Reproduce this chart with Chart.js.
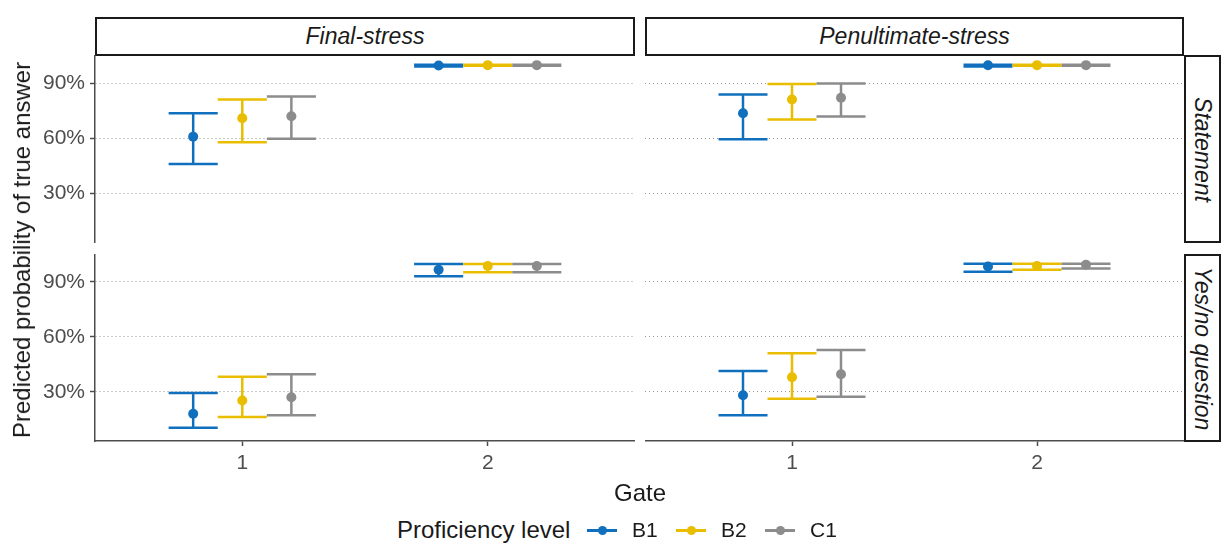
<!DOCTYPE html>
<html>
<head>
<meta charset="utf-8">
<script src="https://cdn.jsdelivr.net/npm/chart.js@4.4.1/dist/chart.umd.min.js"></script>
<style>
  body { margin: 0; background: #fff; width: 1223px; height: 547px; position: relative; overflow: hidden;
         font-family: "Liberation Sans", Arial, sans-serif; color: #1a1a1a; }
  canvas { position: absolute; }
  .strip { position: absolute; box-sizing: border-box; border: 2px solid #1a1a1a; background: #fff;
           font-style: italic; font-size: 23px; display: flex; align-items: center; justify-content: center; }
  .strip span { white-space: nowrap; }
  .vstrip span { transform: rotate(90deg); }
  .label { position: absolute; white-space: nowrap; }
  .key-line { position: absolute; height: 3px; }
  .key-dot { position: absolute; width: 9px; height: 9px; border-radius: 50%; }
</style>
</head>
<body>

<div class="strip" style="left:95px; top:17px; width:540px; height:39px;"><span>Final-stress</span></div>
<div class="strip" style="left:645px; top:17px; width:539px; height:39px;"><span>Penultimate-stress</span></div>
<div class="strip vstrip" style="left:1184px; top:55px; width:37px; height:188px;"><span>Statement</span></div>
<div class="strip vstrip" style="left:1184px; top:254px; width:37px; height:188px;"><span>Yes/no question</span></div>

<canvas id="fsStatement" width="635" height="188" style="left:0; top:55px;"></canvas>
<canvas id="psStatement" width="539" height="188" style="left:645px; top:55px;"></canvas>
<canvas id="fsQuestion" width="635" height="227" style="left:0; top:254px;"></canvas>
<canvas id="psQuestion" width="539" height="227" style="left:645px; top:254px;"></canvas>

<div class="label" style="left:22px; top:250px; font-size:24px; transform:translate(-50%,-50%) rotate(-90deg);">Predicted probability of true answer</div>
<div class="label" style="left:640px; top:493px; font-size:24px; transform:translate(-50%,-50%);">Gate</div>

<div id="legend"></div>

<script>
const gates = [1, 2];
const levels = ['B1', 'B2', 'C1'];
const levelColors = ['#1170bd', '#e9bd00', '#8c8c8c'];
const dodge = [-0.2, 0, 0.2];
const yTicks = [30, 60, 90];

// rows: B1, B2, C1; columns: gate 1, gate 2 (percent)
const fsStatementFit   = [[60.9, 99.5], [70.9, 99.7], [72.0, 99.7]];
const fsStatementLower = [[46.0, 98.9], [57.8, 99.3], [59.7, 99.4]];
const fsStatementUpper = [[73.6, 99.9], [81.1, 99.9], [82.7, 99.9]];

const psStatementFit   = [[73.6, 99.6], [81.1, 99.7], [82.0, 99.7]];
const psStatementLower = [[59.5, 99.0], [70.2, 99.3], [71.8, 99.4]];
const psStatementUpper = [[83.8, 99.9], [89.5, 99.9], [89.7, 99.9]];

const fsQuestionFit   = [[18.1, 96.6], [25.3, 98.7], [27.1, 98.7]];
const fsQuestionLower = [[10.4, 93.0], [16.3, 95.2], [17.2, 95.2]];
const fsQuestionUpper = [[29.4, 99.8], [38.2, 99.8], [39.6, 99.8]];

const psQuestionFit   = [[28.2, 98.4], [38.0, 98.6], [39.6, 99.3]];
const psQuestionLower = [[17.2, 95.5], [26.3, 96.6], [27.3, 97.3]];
const psQuestionUpper = [[41.4, 99.9], [51.1, 99.9], [52.9, 99.9]];

const yMin = 3.2, yMax = 105.2;
const capHalf = 0.1;
const fontFamily = '"Liberation Sans", Arial, sans-serif';

// draws the whiskers and caps before the points go on top
const errorBars = {
  id: 'errorBars',
  beforeDatasetsDraw(chart) {
    const { ctx, scales: { x, y } } = chart;
    chart.data.datasets.forEach(ds => {
      ctx.save();
      ctx.strokeStyle = ds.borderColor;
      ctx.lineWidth = 2.5;
      ds.data.forEach(p => {
        const px = x.getPixelForValue(p.x);
        const left = x.getPixelForValue(p.x - capHalf);
        const right = x.getPixelForValue(p.x + capHalf);
        const yl = y.getPixelForValue(p.lo);
        const yh = y.getPixelForValue(p.hi);
        ctx.beginPath();
        ctx.moveTo(px, yl); ctx.lineTo(px, yh);
        ctx.moveTo(left, yl); ctx.lineTo(right, yl);
        ctx.moveTo(left, yh); ctx.lineTo(right, yh);
        ctx.stroke();
      });
      ctx.restore();
    });
  }
};

// fixed axis sizes so every panel lines up with its strips
function fixSize(s, size) {
  if (s.isHorizontal()) s.height = size; else s.width = size;
  s.paddingTop = 0; s.paddingBottom = 0; s.paddingLeft = 0; s.paddingRight = 0;
}

function facet(id, fit, lower, upper, showY, showX) {
  const datasets = levels.map((lvl, i) => ({
    label: lvl,
    data: gates.map((g, j) => ({ x: g + dodge[i], y: fit[i][j], lo: lower[i][j], hi: upper[i][j] })),
    backgroundColor: levelColors[i],
    borderColor: levelColors[i],
    pointRadius: 5,
    pointBorderWidth: 0
  }));

  return new Chart(document.getElementById(id), {
    type: 'scatter',
    data: { datasets: datasets },
    plugins: [errorBars],
    options: {
      responsive: false,
      animation: false,
      layout: { padding: 0, autoPadding: false },
      plugins: { legend: { display: false }, tooltip: { enabled: false } },
      scales: {
        x: {
          type: 'linear', min: 0.4, max: 2.6,
          display: showX,
          afterBuildTicks: s => { s.ticks = gates.map(v => ({ value: v })); },
          afterFit: s => fixSize(s, showX ? 40 : 0),
          grid: { drawOnChartArea: false, drawTicks: true, tickLength: 5, tickColor: '#4d4d4d', tickWidth: 1.5 },
          border: { display: true, color: '#4d4d4d', width: 1.5 },
          ticks: { color: '#4d4d4d', font: { size: 21, family: fontFamily }, padding: 5, callback: v => String(v) }
        },
        y: {
          min: yMin, max: yMax,
          afterBuildTicks: s => { s.ticks = yTicks.map(v => ({ value: v })); },
          afterFit: s => fixSize(s, showY ? 95 : 0),
          grid: { color: '#999999', lineWidth: 1, drawTicks: showY, tickLength: 5, tickColor: '#4d4d4d', tickWidth: 1.5 },
          border: { display: showY, color: '#4d4d4d', width: 1.5, dash: [1, 3] },
          ticks: { display: showY, color: '#4d4d4d', font: { size: 21, family: fontFamily }, padding: 5, callback: v => v + '%' }
        }
      }
    }
  });
}

facet('fsStatement', fsStatementFit, fsStatementLower, fsStatementUpper, true, false);
facet('psStatement', psStatementFit, psStatementLower, psStatementUpper, false, false);
facet('fsQuestion', fsQuestionFit, fsQuestionLower, fsQuestionUpper, true, true);
facet('psQuestion', psQuestionFit, psQuestionLower, psQuestionUpper, false, true);

// legend along the bottom
const legend = document.getElementById('legend');
const legendY = 530;
const keyLeft = [587, 676, 765];
let html = '<div class="label" style="left:397px; top:' + legendY + 'px; font-size:24px; transform:translateY(-50%);">Proficiency level</div>';
levels.forEach((lvl, i) => {
  const x0 = keyLeft[i];
  html += '<div class="key-line" style="left:' + x0 + 'px; top:' + (legendY - 1.5) + 'px; width:30px; background:' + levelColors[i] + ';"></div>';
  html += '<div class="key-dot" style="left:' + (x0 + 10.5) + 'px; top:' + (legendY - 4.5) + 'px; background:' + levelColors[i] + ';"></div>';
  html += '<div class="label" style="left:' + (x0 + 45) + 'px; top:' + legendY + 'px; font-size:21px; transform:translateY(-50%);">' + lvl + '</div>';
});
legend.innerHTML = html;
</script>
</body>
</html>
